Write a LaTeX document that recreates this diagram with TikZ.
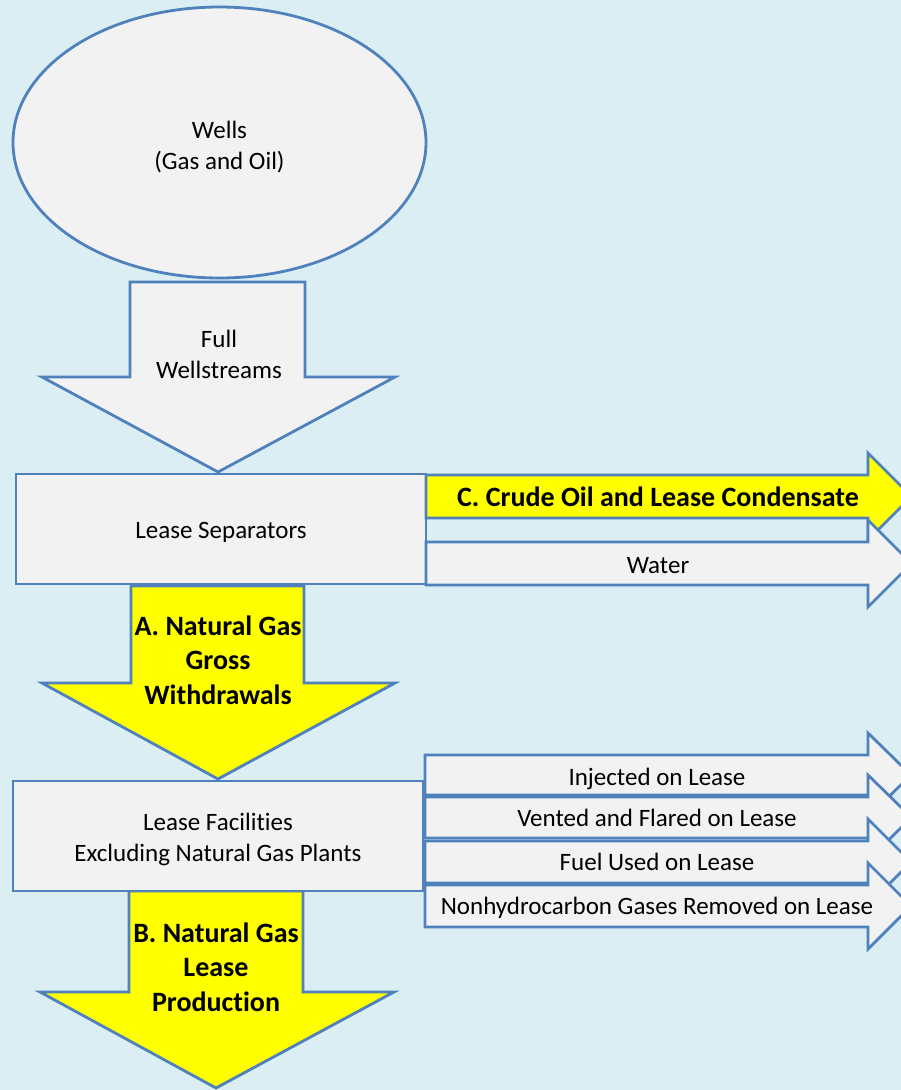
\documentclass[tikz,border=0pt]{standalone}
\usepackage{fontspec}
\setmainfont{Carlito}[Ligatures=NoCommon]
\definecolor{bgblue}{HTML}{DAEEF3}
\definecolor{edgeblue}{HTML}{4F81BD}
\definecolor{boxgray}{HTML}{F2F2F2}
\definecolor{flowyellow}{HTML}{FFFF00}
\tikzset{
    blockgray/.style={draw=edgeblue, line width=2.8pt, fill=boxgray, line join=miter},
    blockyellow/.style={blockgray, fill=flowyellow},
    plaintxt/.style={font=\fontsize{25}{31}\selectfont, align=center, inner sep=0pt},
    boldtxt/.style={font=\fontsize{28}{34.5}\selectfont\bfseries, align=center, inner sep=0pt}
}
\begin{document}
\begin{tikzpicture}[x=1pt,y=-1pt]
    \useasboundingbox (0,0) rectangle (901,1090);
    \clip (0,0) rectangle (901,1090);
    \fill[bgblue] (0,0) rectangle (901,1090);
    % Wells
    \draw[blockgray] (219.5,142.5) ellipse [x radius=206.5, y radius=135.5];
    \node[plaintxt] (wells) at (219.5,147) {Wells\\(Gas and Oil)};
    % Full wellstreams
    \draw[blockgray] (130,282) -- (305,282) -- (305,377) -- (395,377) -- (218,472)
        -- (42,377) -- (130,377) -- cycle;
    \node[plaintxt] (full) at (219,354) {Full\\Wellstreams};
    % Gross withdrawals
    \draw[blockyellow] (131,586) -- (304,586) -- (304,683) -- (395,683) -- (218,779)
        -- (42,683) -- (131,683) -- cycle;
    \node[boldtxt] (grosswd) at (218,660) {A. Natural Gas\\Gross\\Withdrawals};
    % Lease separators
    \draw[blockgray] (16,474) rectangle (426,584);
    \node[plaintxt] (separators) at (221,532) {Lease Separators};
    % Crude oil and water
    \draw[blockyellow] (426,475) -- (868,475) -- (868,453) -- (911.5,496.5) -- (868,540)
        -- (868,518) -- (426,518) -- cycle;
    \node[boldtxt] (crude) at (658,497) {C. Crude Oil and Lease Condensate};
    \draw[blockgray] (426,542) -- (868,542) -- (868,520) -- (911.5,563.5) -- (868,607)
        -- (868,585) -- (426,585) -- cycle;
    \node[plaintxt] (water) at (658,566) {Water};
    % Lease production
    \draw[blockyellow] (129,891) -- (303,891) -- (303,992) -- (394,992) -- (216,1088)
        -- (40,992) -- (129,992) -- cycle;
    \node[boldtxt] (leaseprod) at (216,967) {B. Natural Gas\\Lease\\Production};
    % Lease facilities
    \draw[blockgray] (13,781) rectangle (423,891);
    \node[plaintxt] (facilities) at (218,839) {Lease Facilities\\Excluding Natural Gas Plants};
    % Gas used or removed on lease
    \draw[blockgray] (425,755) -- (868,755) -- (868,733) -- (911,775) -- (868,817)
        -- (868,795) -- (425,795) -- cycle;
    \node[plaintxt] (injected) at (657,779) {Injected on Lease};
    \draw[blockgray] (425,797) -- (868,797) -- (868,775) -- (911.5,817.5) -- (868,860)
        -- (868,838) -- (425,838) -- cycle;
    \node[plaintxt] (vented) at (657,818) {Vented and Flared on Lease};
    \draw[blockgray] (425,841) -- (868,841) -- (868,819) -- (911,862) -- (868,905)
        -- (868,883) -- (425,883) -- cycle;
    \node[plaintxt] (fuel) at (657,862) {Fuel Used on Lease};
    \draw[blockgray] (425,885) -- (868,885) -- (868,863) -- (911,906) -- (868,949)
        -- (868,927) -- (425,927) -- cycle;
    \node[plaintxt] (nonhydro) at (657,908) {Nonhydrocarbon Gases Removed on Lease};
\end{tikzpicture}
\end{document}
